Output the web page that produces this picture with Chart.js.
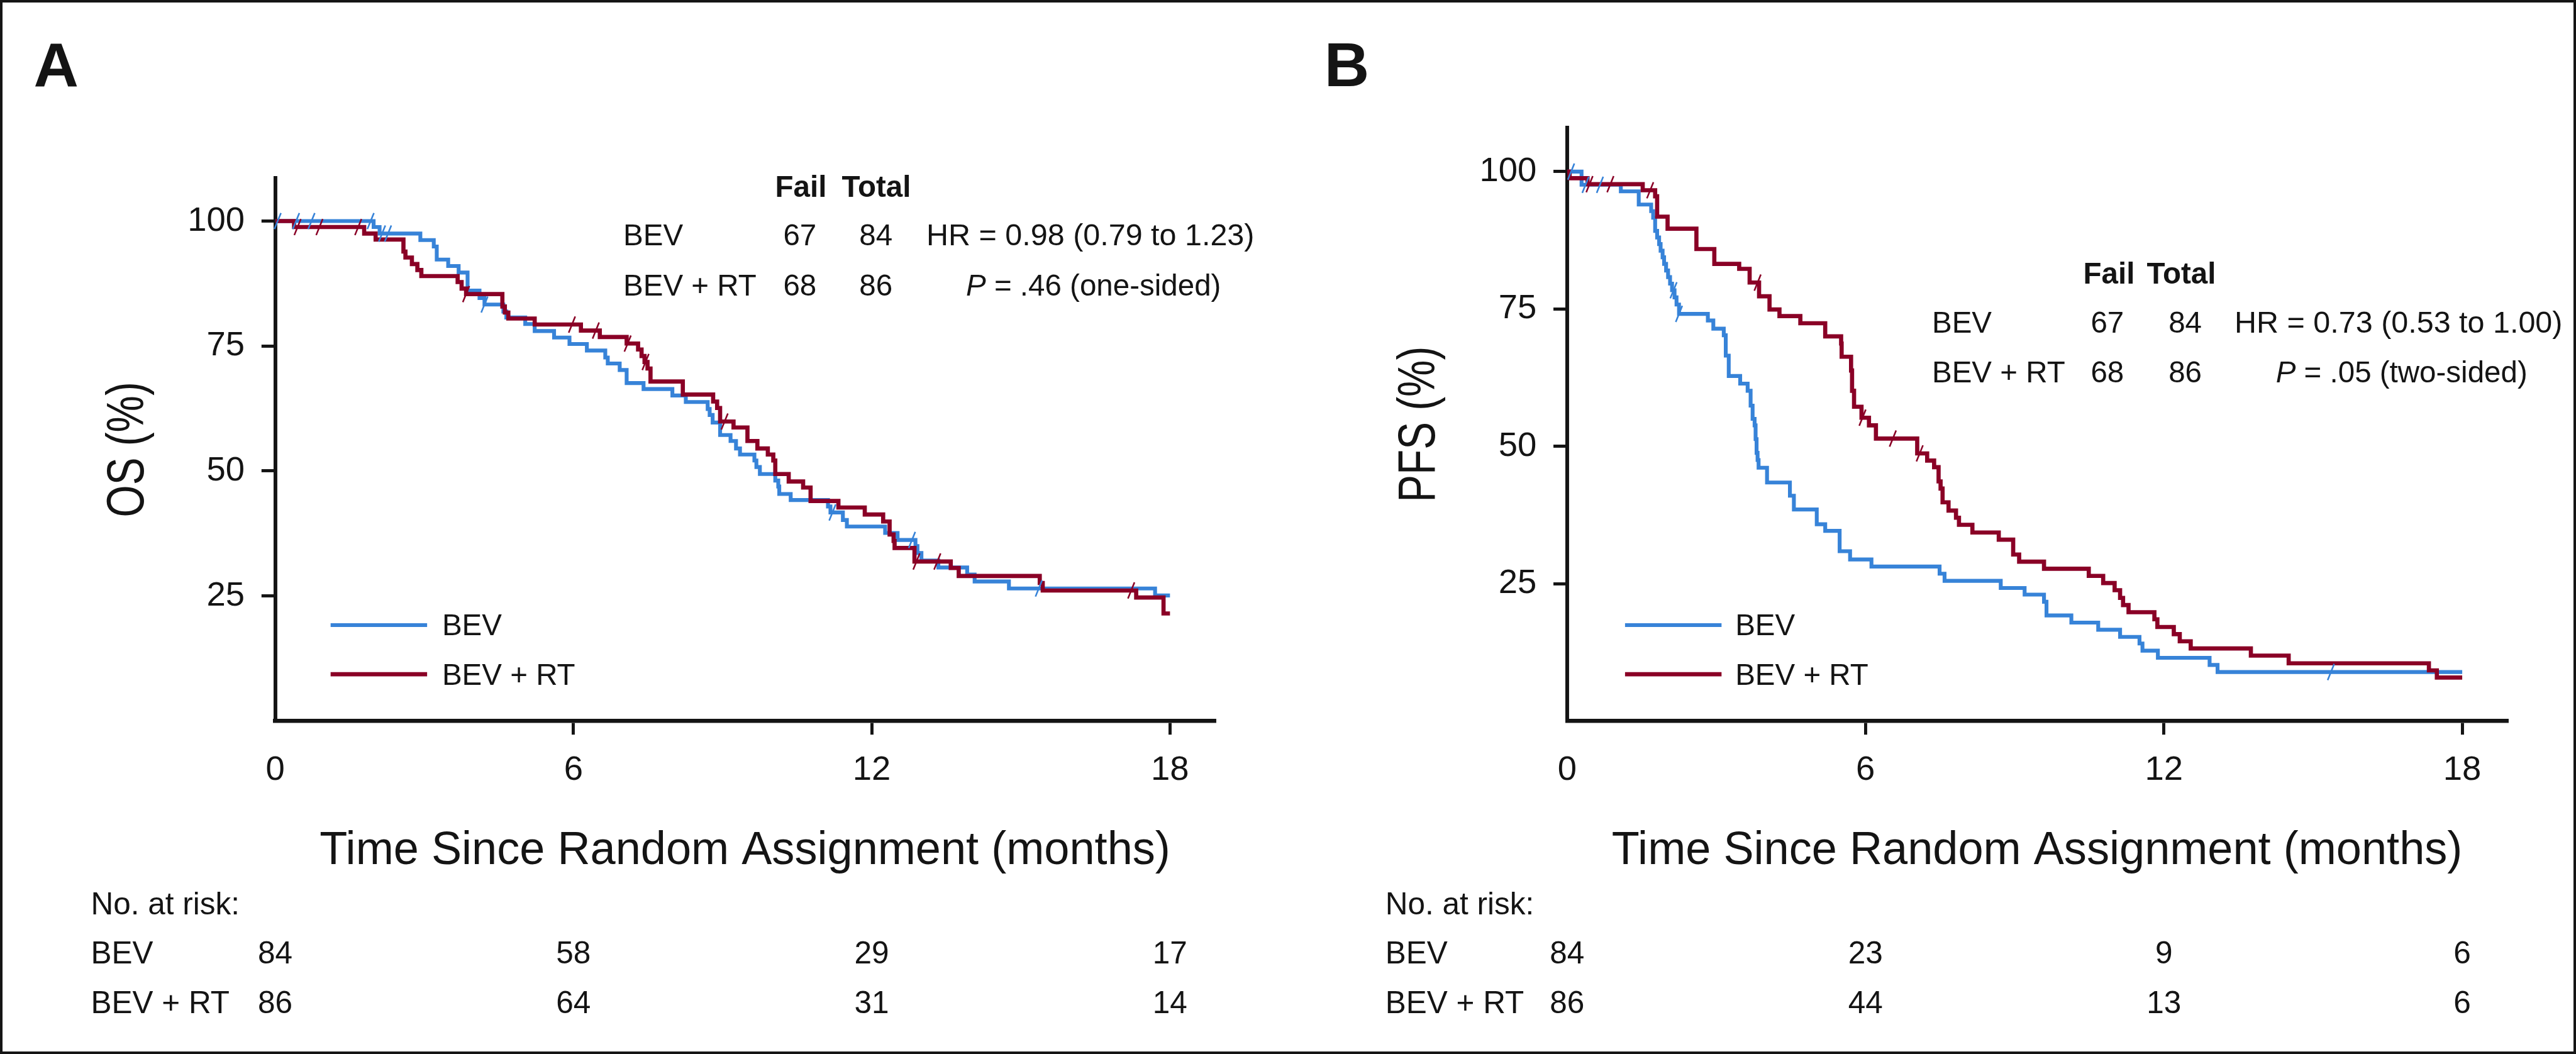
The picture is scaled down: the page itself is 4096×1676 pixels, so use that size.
<!DOCTYPE html>
<html>
<head>
<meta charset="utf-8">
<script src="https://cdn.jsdelivr.net/npm/chart.js@4.4.0/dist/chart.umd.min.js"></script>
<style>
html,body{margin:0;padding:0;background:#fff;}
#wrap{position:relative;width:4096px;height:1676px;overflow:hidden;background:#fff;}
#wrap canvas{position:absolute;left:0;top:0;}
#frame{position:absolute;left:0;top:0;width:4096px;height:1676px;box-sizing:border-box;border:4px solid #151515;pointer-events:none;}
</style>
</head>
<body>
<div id="wrap">
  <canvas id="cA" width="4096" height="1676"></canvas>
  <canvas id="cB" width="4096" height="1676"></canvas>
  <div id="frame"></div>
</div>
<script>
// ---------------- data ----------------
const groupNames = ['BEV', 'BEV + RT'];
const xTickVals = [0, 6, 12, 18];
const yTickVals = [25, 50, 75, 100];
const riskTimes = [0, 6, 12, 18];

// Panel A: overall survival
const osBevTime = [0, 1.98, 2.10, 2.92, 3.19, 3.25, 3.48, 3.69, 3.87, 4.11, 4.21, 4.59, 4.65, 5.03, 5.22, 5.61, 5.92, 6.27, 6.64, 6.69, 6.93, 7.07, 7.41, 7.99, 8.26, 8.70, 8.74, 8.80, 8.95, 9.16, 9.27, 9.35, 9.64, 9.68, 9.75, 10.06, 10.12, 10.14, 10.37, 11.12, 11.17, 11.42, 11.50, 12.27, 12.52, 12.88, 12.92, 13.00, 13.34, 13.92, 14.07, 14.76, 17.70, 18.00];
const osBevPct  = [100, 98.8, 97.5, 96.2, 94.9, 92.3, 91.0, 89.7, 86.1, 84.6, 83.3, 81.9, 80.7, 79.4, 78.0, 76.7, 75.4, 74.1, 72.7, 71.5, 70.2, 67.6, 66.4, 65.1, 63.8, 62.4, 61.2, 59.7, 57.2, 56.0, 54.5, 53.3, 52.1, 50.8, 49.4, 48.1, 46.9, 45.4, 44.2, 42.9, 41.7, 40.2, 38.9, 37.6, 36.2, 35.0, 33.6, 32.1, 30.7, 29.3, 27.9, 26.5, 25.1, 25.1];
const osRtTime  = [0, 0.38, 1.79, 2.02, 2.58, 2.62, 2.75, 2.86, 2.94, 3.67, 3.75, 3.84, 4.57, 4.62, 4.69, 5.22, 6.15, 6.53, 7.07, 7.30, 7.37, 7.43, 7.49, 7.55, 8.20, 8.81, 8.89, 8.95, 9.22, 9.50, 9.70, 9.91, 10.02, 10.06, 10.33, 10.62, 10.77, 11.33, 11.86, 12.23, 12.36, 12.44, 12.46, 12.86, 13.59, 13.75, 15.38, 15.44, 17.32, 17.87, 18.00];
const osRtPct   = [100, 98.8, 97.5, 96.3, 93.9, 92.7, 91.4, 90.2, 89.0, 87.8, 86.5, 85.4, 82.9, 81.7, 80.5, 79.3, 78.1, 76.8, 75.5, 74.3, 73.0, 71.8, 70.5, 67.9, 65.3, 63.9, 62.6, 59.9, 58.7, 56.0, 54.5, 53.3, 52.1, 49.4, 47.9, 46.7, 44.0, 42.7, 41.3, 39.9, 37.3, 36.0, 34.6, 31.9, 30.6, 29.0, 27.6, 26.1, 24.7, 21.5, 21.5];
const osBevCensor = [0.05, 0.42, 0.73, 1.92, 2.15, 2.27, 4.21, 11.21, 12.81, 15.36];
const osRtCensor  = [0.45, 0.89, 1.67, 3.84, 5.97, 6.45, 7.09, 7.45, 9.04, 12.90, 13.32, 17.22];
const osFail  = [67, 68];
const osTotal = [84, 86];
const osHR = 'HR = 0.98 (0.79 to 1.23)';
const osP  = ' = .46 (one-sided)';
const osRiskBev = [84, 58, 29, 17];
const osRiskRt  = [86, 64, 31, 14];

// Panel B: progression-free survival
const pfsBevTime = [0, 0.29, 1.08, 1.44, 1.69, 1.73, 1.77, 1.81, 1.85, 1.88, 1.92, 1.95, 1.99, 2.03, 2.07, 2.11, 2.16, 2.20, 2.25, 2.83, 2.94, 3.15, 3.19, 3.25, 3.48, 3.63, 3.69, 3.73, 3.77, 3.79, 3.81, 3.83, 3.85, 4.02, 4.48, 4.56, 5.02, 5.19, 5.48, 5.69, 6.12, 7.49, 7.59, 8.72, 9.20, 9.59, 9.64, 10.14, 10.68, 11.12, 11.51, 11.57, 11.88, 12.92, 13.08, 18.00];
const pfsBevPct  = [100, 97.6, 96.4, 94.0, 92.8, 91.6, 89.2, 88.0, 86.8, 85.6, 84.4, 83.2, 82.0, 80.8, 79.6, 78.4, 77.1, 75.8, 74.1, 72.9, 71.4, 70.2, 66.5, 62.8, 61.4, 60.1, 57.4, 55.0, 53.8, 51.3, 48.8, 47.5, 46.1, 43.4, 41.0, 38.5, 35.8, 34.6, 30.9, 29.4, 28.1, 26.8, 25.5, 24.2, 23.0, 21.7, 19.2, 17.9, 16.6, 15.3, 14.1, 12.8, 11.5, 10.2, 8.9, 8.9];
const pfsRtTime  = [0, 0.05, 0.41, 1.52, 1.77, 1.81, 2.02, 2.60, 2.96, 3.46, 3.67, 3.86, 4.07, 4.27, 4.69, 5.19, 5.51, 5.52, 5.71, 5.73, 5.77, 5.92, 6.07, 6.21, 7.04, 7.24, 7.38, 7.47, 7.51, 7.55, 7.67, 7.82, 7.88, 8.15, 8.68, 8.97, 9.09, 9.59, 10.49, 10.78, 11.01, 11.12, 11.18, 11.29, 11.81, 11.87, 12.20, 12.32, 12.54, 13.75, 14.51, 17.33, 17.49, 18.00];
const pfsRtPct   = [100, 98.8, 97.7, 96.6, 95.5, 91.8, 89.6, 85.9, 83.2, 82.3, 79.8, 77.3, 74.9, 73.7, 72.4, 70.0, 68.7, 66.3, 63.8, 60.1, 57.2, 55.2, 53.8, 51.4, 48.7, 47.4, 46.2, 43.6, 42.3, 39.8, 38.3, 37.0, 35.7, 34.3, 33.0, 30.3, 29.0, 27.7, 26.4, 25.1, 23.8, 22.4, 21.1, 19.8, 18.5, 17.1, 15.8, 14.5, 13.2, 11.9, 10.5, 9.2, 7.9, 7.9];
const pfsBevCensor = [0.08, 0.37, 0.66, 2.14, 2.25, 15.36];
const pfsRtCensor  = [0.45, 0.87, 1.67, 3.83, 5.94, 6.55, 7.09];
const pfsFail  = [67, 68];
const pfsTotal = [84, 86];
const pfsHR = 'HR = 0.73 (0.53 to 1.00)';
const pfsP  = ' = .05 (two-sided)';
const pfsRiskBev = [84, 23, 9, 6];
const pfsRiskRt  = [86, 44, 13, 6];

// ---------------- style / layout ----------------
const S = 0.99;
const FONT = "'Liberation Sans', Arial, Helvetica, sans-serif";
const INK = '#141414';
const BLUE = '#3783d8';
const RED = '#8a0026';

function survAt(times, pcts, t) {
  let v = pcts[0];
  for (let i = 0; i < times.length; i++) if (times[i] <= t) v = pcts[i];
  return v;
}
function stepPoints(times, pcts) { return times.map((t, i) => ({ x: t, y: pcts[i] })); }
function censorPoints(c, times, pcts) { return c.map(t => ({ x: t, y: survAt(times, pcts, t) })); }

function text(ctx, str, x, y, o) {
  ctx.save();
  ctx.font = `${o.style || 'normal'} ${o.weight || 'normal'} ${o.size * S}px ${FONT}`;
  ctx.fillStyle = INK;
  ctx.textBaseline = 'alphabetic';
  ctx.textAlign = o.align || 'left';
  ctx.translate(x * S, y * S);
  if (o.rot) ctx.rotate(o.rot);
  if (o.sx) ctx.scale(o.sx, 1);
  ctx.fillText(str, 0, o.dy || 0);
  ctx.restore();
}
function measure(ctx, str, o) {
  ctx.save();
  ctx.font = `${o.style || 'normal'} ${o.weight || 'normal'} ${o.size * S}px ${FONT}`;
  const w = ctx.measureText(str).width / S;
  ctx.restore();
  return w;
}

const panels = {
  cA: {
    letter: 'A', letterX: 54,
    area: { l: 442, r: 1951, t: 286, b: 1158 }, yMax: 108.6,
    times: [osBevTime, osRtTime], pcts: [osBevPct, osRtPct], cens: [osBevCensor, osRtCensor],
    fail: osFail, total: osTotal, hr: osHR, p: osP, risk: [osRiskBev, osRiskRt],
    yTitle: 'OS (%)', yTitleX: 200,
    tab: { name: 1001, fail: 1245, total: 1352, n1: 1258, n2: 1380, hr: 1488, head: 316, r1: 394, r2: 475 },
    leg: { x0: 531, x1: 686, tx: 710 },
    riskX: 146
  },
  cB: {
    letter: 'B', letterX: 2127,
    area: { l: 2517, r: 4026.5, t: 205, b: 1158 }, yMax: 108.0,
    times: [pfsBevTime, pfsRtTime], pcts: [pfsBevPct, pfsRtPct], cens: [pfsBevCensor, pfsRtCensor],
    fail: pfsFail, total: pfsTotal, hr: pfsHR, p: pfsP, risk: [pfsRiskBev, pfsRiskRt],
    yTitle: 'PFS (%)', yTitleX: 2274,
    tab: { name: 3103, fail: 3346, total: 3448, n1: 3358, n2: 3483, hr: 3589, head: 456, r1: 534, r2: 614 },
    leg: { x0: 2610, x1: 2765, tx: 2787 },
    riskX: 2225
  }
};

const annotPlugin = {
  id: 'annot',
  afterDraw(chart) {
    const P = panels[chart.canvas.id];
    const ctx = chart.ctx;
    const ca = chart.chartArea;
    const colors = [BLUE, RED];
    const widths = [6.2, 6.7];
    const F = 48;
    // panel letter
    text(ctx, P.letter, P.letterX, 138, { size: 100, weight: 'bold' });
    // stats table
    const T = P.tab;
    text(ctx, 'Fail', T.fail, T.head, { size: F, weight: 'bold' });
    text(ctx, 'Total', T.total, T.head, { size: F, weight: 'bold' });
    [T.r1, T.r2].forEach((yy, i) => {
      text(ctx, groupNames[i], T.name, yy, { size: F });
      text(ctx, String(P.fail[i]), T.n1, yy, { size: F });
      text(ctx, String(P.total[i]), T.n2, yy, { size: F });
    });
    text(ctx, P.hr, T.hr, T.r1, { size: F, sx: 1.02 });
    const hrW = measure(ctx, P.hr, { size: F }) * 1.02;
    const pW = measure(ctx, 'P', { size: F, style: 'italic' });
    const restW = measure(ctx, P.p, { size: F });
    const pStart = T.hr + hrW / 2 + 5 - (pW + restW) / 2;
    text(ctx, 'P', pStart, T.r2, { size: F, style: 'italic' });
    text(ctx, P.p, pStart + pW, T.r2, { size: F });
    // legend
    const L = P.leg;
    [[1004, 1020], [1083, 1100]].forEach((r, i) => {
      ctx.save();
      ctx.strokeStyle = colors[i];
      ctx.lineWidth = widths[i] * S;
      ctx.beginPath();
      ctx.moveTo(L.x0 * S, r[0] * S);
      ctx.lineTo(L.x1 * S, r[0] * S);
      ctx.stroke();
      ctx.restore();
      text(ctx, groupNames[i], L.tx, r[1], { size: F });
    });
    // y title (rotated)
    const cy = (ca.top + ca.bottom) / 2 / S;
    const ySize = 84;
    text(ctx, P.yTitle, P.yTitleX, cy, { size: ySize, rot: -Math.PI / 2, sx: 0.79, align: 'center', dy: 0.716 * ySize * S / 2 });
    // x title
    text(ctx, 'Time Since Random Assignment (months)', (ca.left + ca.right) / 2 / S, 1388, { size: 74, align: 'center', sx: 0.985 });
    // number at risk
    text(ctx, 'No. at risk:', P.riskX, 1469, { size: 50 });
    const xs = chart.scales.x;
    [1547, 1627].forEach((yy, i) => {
      text(ctx, groupNames[i], P.riskX, yy, { size: 50 });
      riskTimes.forEach((t, k) => {
        text(ctx, String(P.risk[i][k]), xs.getPixelForValue(t) / S, yy, { size: 50, align: 'center' });
      });
    });
  }
};

function makePanel(id) {
  const P = panels[id];
  const yW = 200 * S, xH = 180 * S;
  const pad = {
    left: P.area.l * S - yW,
    right: 4096 - P.area.r * S,
    top: P.area.t * S,
    bottom: 1676 - P.area.b * S - xH
  };
  const colors = [BLUE, RED];
  const widths = [6.2, 6.7];
  const lines = [1, 0].map(i => ({
    type: 'line',
    data: stepPoints(P.times[i], P.pcts[i]),
    stepped: true,
    borderColor: colors[i],
    borderWidth: widths[i] * S,
    pointRadius: 0,
    fill: false,
    order: 10 - i
  }));
  const marks = [1, 0].map(i => ({
    type: 'scatter',
    data: censorPoints(P.cens[i], P.times[i], P.pcts[i]),
    showLine: false,
    pointStyle: 'line',
    pointRadius: 14 * S,
    pointRotation: 112,
    pointBorderWidth: 2.6 * S,
    pointBorderColor: colors[i],
    pointBackgroundColor: colors[i],
    clip: false,
    order: 3 - i
  }));
  const axisGrid = {
    display: true, drawOnChartArea: false, drawTicks: true,
    tickLength: 22 * S, lineWidth: 5 * S,
    color: c => (c.tick && c.tick.value === 0) ? 'rgba(0,0,0,0)' : INK
  };
  new Chart(document.getElementById(id), {
    type: 'line',
    data: { datasets: [...lines, ...marks] },
    options: {
      responsive: false, animation: false, devicePixelRatio: 1, events: [],
      layout: { padding: pad },
      plugins: { legend: { display: false }, tooltip: { enabled: false }, title: { display: false } },
      scales: {
        x: {
          type: 'linear', min: 0, max: 18.9,
          afterBuildTicks: s => { s.ticks = xTickVals.map(v => ({ value: v })); },
          afterFit: s => { s.height = xH; },
          grid: axisGrid,
          border: { display: true, width: 6.6 * S, color: INK },
          ticks: { color: INK, font: { family: FONT, size: 55 * S, lineHeight: 1.2 }, padding: 24 * S, autoSkip: false, maxRotation: 0, minRotation: 0, callback: v => String(v) }
        },
        y: {
          type: 'linear', min: 0, max: P.yMax,
          afterBuildTicks: s => { s.ticks = yTickVals.map(v => ({ value: v })); },
          afterFit: s => { s.width = yW; },
          grid: axisGrid,
          border: { display: true, width: 6 * S, color: INK },
          ticks: { color: INK, font: { family: FONT, size: 55 * S, lineHeight: 1.2 }, padding: 27 * S, callback: v => String(v) }
        }
      }
    },
    plugins: [annotPlugin]
  });
}
makePanel('cA');
makePanel('cB');
</script>
</body>
</html>
